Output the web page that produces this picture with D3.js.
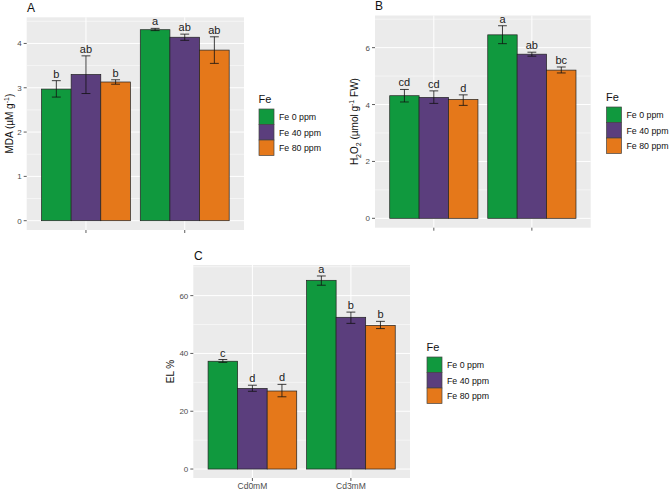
<!DOCTYPE html>
<html><head><meta charset="utf-8">
<script src="https://cdn.jsdelivr.net/npm/d3@7"></script>
<style>body{margin:0;background:#fff}svg{display:block}text{font-family:"Liberation Sans",Arial,sans-serif}</style>
</head><body>
<svg id="c" width="669" height="491"></svg>
<script>
const groups = ["Cd0mM", "Cd3mM"];
const feLevels = ["Fe 0 ppm", "Fe 40 ppm", "Fe 80 ppm"];
const colors = ["#10993e", "#5b3e7d", "#e5781a"];

// Panel A: MDA
const mdaMean = [[2.97, 3.30, 3.13], [4.31, 4.14, 3.85]];
const mdaLow  = [[2.79, 2.87, 3.08], [4.29, 4.07, 3.55]];
const mdaHigh = [[3.16, 3.72, 3.18], [4.34, 4.21, 4.15]];
const mdaLetters = [["b", "ab", "b"], ["a", "ab", "ab"]];
const mdaTicks = [0, 1, 2, 3, 4];

// Panel B: H2O2
const h2o2Mean = [[4.31, 4.25, 4.18], [6.45, 5.77, 5.21]];
const h2o2Low  = [[4.09, 4.04, 3.97], [6.14, 5.70, 5.11]];
const h2o2High = [[4.53, 4.48, 4.34], [6.77, 5.84, 5.32]];
const h2o2Letters = [["cd", "cd", "d"], ["a", "ab", "bc"]];
const h2o2Ticks = [0, 2, 4, 6];

// Panel C: EL %
const elMean = [[37.3, 27.9, 27.0], [65.3, 52.5, 49.7]];
const elLow  = [[36.9, 26.9, 25.0], [63.6, 50.4, 48.6]];
const elHigh = [[37.9, 29.0, 29.3], [66.8, 54.3, 51.1]];
const elLetters = [["c", "d", "d"], ["a", "b", "b"]];
const elTicks = [0, 20, 40, 60];

const svg = d3.select("#c");

function panel(cfg) {
  const g = svg.append("g");
  const {x0, x1, y0, y1} = cfg.box;
  const y = d3.scaleLinear().domain(cfg.domain).range([y1, y0]);
  const x = d3.scaleBand().domain(groups).range([x0, x1]).paddingInner(0.1).paddingOuter(0.15);
  const xi = d3.scaleBand().domain(feLevels).range([0, x.bandwidth()]);
  // background
  g.append("rect").attr("x", x0).attr("y", y0).attr("width", x1 - x0).attr("height", y1 - y0).attr("fill", "#ebebeb");
  // minor grid
  const minor = [];
  for (let i = 0; i < cfg.ticks.length - 1; i++) minor.push((cfg.ticks[i] + cfg.ticks[i + 1]) / 2);
  const step = cfg.ticks[1] - cfg.ticks[0];
  const last = cfg.ticks[cfg.ticks.length - 1];
  if (last + step / 2 < cfg.domain[1]) minor.push(last + step / 2);
  g.selectAll(".mn").data(minor).enter().append("line")
    .attr("x1", x0).attr("x2", x1).attr("y1", d => y(d)).attr("y2", d => y(d))
    .attr("stroke", "#fff").attr("stroke-width", 0.5);
  g.selectAll(".mj").data(cfg.ticks).enter().append("line")
    .attr("x1", x0).attr("x2", x1).attr("y1", d => y(d)).attr("y2", d => y(d))
    .attr("stroke", "#fff").attr("stroke-width", 1);
  g.selectAll(".vg").data(groups).enter().append("line")
    .attr("x1", d => x(d) + x.bandwidth() / 2).attr("x2", d => x(d) + x.bandwidth() / 2)
    .attr("y1", y0).attr("y2", y1).attr("stroke", "#fff").attr("stroke-width", 1);
  // bars
  groups.forEach((grp, gi) => {
    feLevels.forEach((fe, fi) => {
      const bx = x(grp) + xi(fe), bw = xi.bandwidth();
      g.append("rect").attr("x", bx).attr("y", y(cfg.mean[gi][fi]))
        .attr("width", bw).attr("height", y(0) - y(cfg.mean[gi][fi]))
        .attr("fill", colors[fi]).attr("stroke", "#222").attr("stroke-width", 0.7);
    });
  });
  // error bars and letters
  groups.forEach((grp, gi) => {
    feLevels.forEach((fe, fi) => {
      const cx = x(grp) + xi(fe) + xi.bandwidth() / 2, hw = xi.bandwidth() * 0.15;
      const yl = y(cfg.low[gi][fi]), yh = y(cfg.high[gi][fi]);
      const eg = g.append("g").attr("stroke", "#111").attr("stroke-width", 0.8);
      eg.append("line").attr("x1", cx).attr("x2", cx).attr("y1", yl).attr("y2", yh);
      eg.append("line").attr("x1", cx - hw).attr("x2", cx + hw).attr("y1", yl).attr("y2", yl);
      eg.append("line").attr("x1", cx - hw).attr("x2", cx + hw).attr("y1", yh).attr("y2", yh);
      g.append("text").attr("x", cx).attr("y", yh - 3).attr("text-anchor", "middle")
        .attr("font-size", 11).attr("fill", "#222").text(cfg.letters[gi][fi]);
    });
  });
  // y axis ticks
  g.selectAll(".yt").data(cfg.ticks).enter().append("line")
    .attr("x1", x0 - 3).attr("x2", x0).attr("y1", d => y(d)).attr("y2", d => y(d))
    .attr("stroke", "#333").attr("stroke-width", 0.8);
  g.selectAll(".yl").data(cfg.ticks).enter().append("text")
    .attr("x", x0 - 5).attr("y", d => y(d) + 3).attr("text-anchor", "end")
    .attr("font-size", 8).attr("fill", "#4d4d4d").text(d => d);
  // x axis ticks
  g.selectAll(".xt").data(groups).enter().append("line")
    .attr("x1", d => x(d) + x.bandwidth() / 2).attr("x2", d => x(d) + x.bandwidth() / 2)
    .attr("y1", y1).attr("y2", y1 + 3).attr("stroke", "#333").attr("stroke-width", 0.8);
  if (cfg.xlabels) {
    g.selectAll(".xl").data(groups).enter().append("text")
      .attr("x", d => x(d) + x.bandwidth() / 2).attr("y", y1 + 11).attr("text-anchor", "middle")
      .attr("font-size", 8.5).attr("fill", "#4d4d4d").text(d => d);
  }
  // y title
  const yt = g.append("text").attr("transform", `translate(${cfg.ytx},${(y0 + y1) / 2}) rotate(-90)`)
    .attr("text-anchor", "middle").attr("font-size", 10).attr("fill", "#111");
  cfg.ytitle(yt);
  // panel tag
  g.append("text").attr("x", cfg.tag[1]).attr("y", cfg.tag[2]).attr("font-size", 12).attr("fill", "#111").text(cfg.tag[0]);
  // legend
  const lg = g.append("g").attr("transform", `translate(${cfg.leg[0]},${cfg.leg[1]})`);
  lg.append("text").attr("x", 0).attr("y", 0).attr("font-size", 11).attr("fill", "#111").text("Fe");
  feLevels.forEach((fe, fi) => {
    lg.append("rect").attr("x", 0.5).attr("y", 6 + fi * 15.5).attr("width", 15).attr("height", 15.5)
      .attr("fill", colors[fi]).attr("stroke", "#444").attr("stroke-width", 0.7);
    lg.append("text").attr("x", 20.5).attr("y", 6 + fi * 15.5 + 11).attr("font-size", 8.8)
      .attr("fill", "#111").text(fe);
  });
}

panel({
  box: {x0: 26.7, x1: 244, y0: 17.3, y1: 230}, domain: [-0.21, 4.59], ticks: mdaTicks,
  mean: mdaMean, low: mdaLow, high: mdaHigh, letters: mdaLetters, xlabels: false,
  ytx: 13, tag: ["A", 27, 12], leg: [258.5, 103],
  ytitle: t => { t.append("tspan").text("MDA (µM g"); t.append("tspan").attr("dy", -4).attr("font-size", 7).text("-1");
                 t.append("tspan").attr("dy", 4).text(")"); }
});
panel({
  box: {x0: 375, x1: 590.7, y0: 15.5, y1: 227.7}, domain: [-0.33, 7.13], ticks: h2o2Ticks,
  mean: h2o2Mean, low: h2o2Low, high: h2o2High, letters: h2o2Letters, xlabels: false,
  ytx: 358, tag: ["B", 375, 10], leg: [606, 101],
  ytitle: t => { t.append("tspan").text("H"); t.append("tspan").attr("dy", 3).attr("font-size", 7).text("2");
                 t.append("tspan").attr("dy", -3).text("O"); t.append("tspan").attr("dy", 3).attr("font-size", 7).text("2");
                 t.append("tspan").attr("dy", -3).text(" (µmol g"); t.append("tspan").attr("dy", -4).attr("font-size", 7).text("-1");
                 t.append("tspan").attr("dy", 4).text(" FW)"); }
});
panel({
  box: {x0: 193.3, x1: 410, y0: 265, y1: 478}, domain: [-3.1, 70.6], ticks: elTicks,
  mean: elMean, low: elLow, high: elHigh, letters: elLetters, xlabels: true,
  ytx: 174, tag: ["C", 194, 260], leg: [426.5, 351],
  ytitle: t => t.text("EL %")
});
</script>
</body></html>
